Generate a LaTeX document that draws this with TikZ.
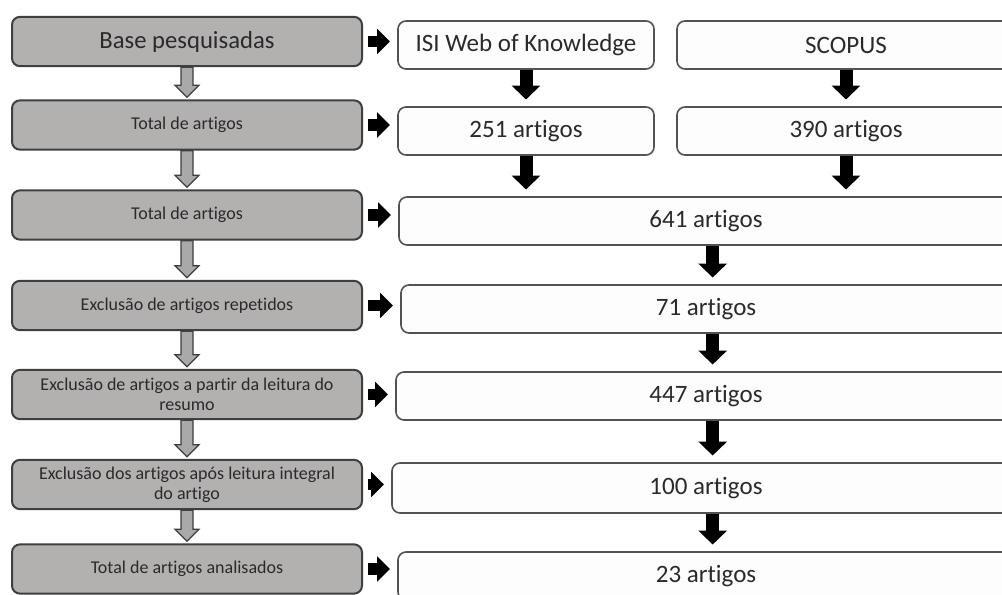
\documentclass[tikz,border=0pt]{standalone}
\usepackage{fontspec}
\setmainfont{Carlito}[Ligatures={NoCommon,NoContextual}]
\usepackage{xcolor}
\usepackage{tikz}
\usetikzlibrary{positioning,calc,arrows.meta}

\definecolor{stepgray}{HTML}{B3B0B0}
\definecolor{edgegray}{HTML}{3F3F3F}
\definecolor{resultwhite}{HTML}{FDFDFD}
\definecolor{hollowgray}{HTML}{A9A9A9}
\definecolor{inkgray}{HTML}{2A2A2A}

\begin{document}
\begin{tikzpicture}[x=0.75pt, y=-0.75pt,
    stepbox/.style={draw=edgegray, line width=1.5pt, fill=stepgray, rounded corners=6pt,
        minimum width=262.5pt, minimum height=37pt, align=center, text=inkgray,
        font=\fontsize{13.5}{15}\selectfont, inner sep=2pt},
    resultbox/.style={draw=edgegray!90, line width=1.2pt, fill=resultwhite, rounded corners=6pt,
        minimum height=36pt, text=inkgray, font=\fontsize{18.75}{22}\selectfont},
    hollow/.style={draw=edgegray, line width=0.9pt, fill=hollowgray},
    sidearrow/.style={line width=8.5pt, -{Triangle[length=9.5pt,width=18.5pt]},
        shorten <=3.5pt, shorten >=5.5pt},
    downarrow/.style={line width=9.75pt, -{Triangle[length=10.5pt,width=21pt]},
        shorten >=5pt}]
    \useasboundingbox (0,0) rectangle (1002,595);

    % Steps on the left
    \node[stepbox, font=\fontsize{18.5}{22}\selectfont] (l1) at (187,41.5) {Base pesquisadas};
    \node[stepbox] (l2) at (187,125) {Total de artigos};
    \node[stepbox] (l3) at (187,215) {Total de artigos};
    \node[stepbox] (l4) at (187,305.5) {Exclusão de artigos repetidos};
    \node[stepbox] (l5) at (187,394.5) {Exclusão de artigos a partir da leitura do\\resumo};
    \node[stepbox] (l6) at (187,484.5) {Exclusão dos artigos após leitura integral\\do artigo};
    \node[stepbox] (l7) at (187,569) {Total de artigos analisados};

    % Databases and counts
    \node[resultbox, minimum width=192pt] (isi) at (526,45) {ISI Web of Knowledge};
    \node[resultbox, minimum width=253.5pt] (scopus) at (846,45) {SCOPUS};
    \node[resultbox, minimum width=192pt] (nisi) at (526,131) {251 artigos};
    \node[resultbox, minimum width=253.5pt] (nscopus) at (846,131) {390 artigos};

    % Totals
    \node[resultbox, minimum width=460.5pt] (n641) at (706,221) {641 artigos};
    \node[resultbox, minimum width=457.5pt] (n71) at (706,309) {71 artigos};
    \node[resultbox, minimum width=465pt] (n447) at (706,396) {447 artigos};
    \node[resultbox, minimum width=471pt, minimum height=37.5pt] (n100) at (706,488) {100 artigos};
    \node[resultbox, minimum width=462pt] (n23) at (706,576) {23 artigos};

    % Hollow arrows between steps
    \foreach \a/\b in {l1/l2,l2/l3,l3/l4,l4/l5,l5/l6,l6/l7}
        \draw[hollow] ($(\a.south)+(-6,0)$) -- ($(\b.north)+(-6,-14)$) -- ++(-6,0)
            -- ($(\b.north)+(0,-2)$) -- ($(\b.north)+(12,-14)$) -- ++(-6,0)
            -- ($(\a.south)+(6,0)$) -- cycle;

    % Arrows to the right
    \draw[sidearrow] (l1.east) -- (l1.east -| isi.west);
    \draw[sidearrow] (l2.east) -- (l2.east -| nisi.west);
    \draw[sidearrow] (l3.east) -- (l3.east -| n641.west);
    \draw[sidearrow] (l4.east) -- (l4.east -| n71.west);
    \draw[sidearrow] (l5.east) -- (l5.east -| n447.west);
    \draw[sidearrow] (l6.east) -- (l6.east -| n100.west);
    \draw[sidearrow] (l7.east) -- (l7.east -| n23.west);

    % Arrows down
    \draw[downarrow] (isi.south) -- (nisi.north);
    \draw[downarrow] (scopus.south) -- (nscopus.north);
    \draw[downarrow] (nisi.south) -- (nisi.south |- n641.north);
    \draw[downarrow] (nscopus.south) -- (nscopus.south |- n641.north);
    \draw[downarrow] ([xshift=5pt]n641.south) -- ([xshift=5pt]n71.north);
    \draw[downarrow] ([xshift=5pt]n71.south) -- ([xshift=5pt]n447.north);
    \draw[downarrow] ([xshift=5pt]n447.south) -- ([xshift=5pt]n100.north);
    \draw[downarrow] ([xshift=5pt]n100.south) -- ([xshift=5pt]n23.north);
\end{tikzpicture}
\end{document}
